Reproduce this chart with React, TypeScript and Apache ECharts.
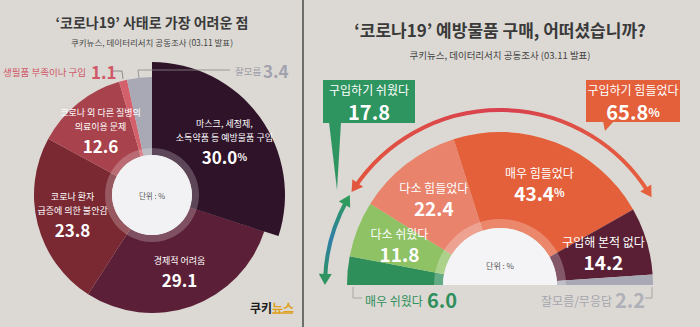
import React, { useEffect, useRef } from "react";
import * as echarts from "echarts";

const FF = '"Noto Sans CJK KR", "Noto Sans", sans-serif';

const leftTitle = "‘코로나19’ 사태로 가장 어려운 점";
const rightTitle = "‘코로나19’ 예방물품 구매, 어떠셨습니까?";
const sourceText = "쿠키뉴스, 데이터리서치 공동조사 (03.11 발표)";
const unitText = "단위 : %";

const leftNames = [
  "마스크, 세정제,\n소독약품 등 예방물품 구입",
  "경제적 어려움",
  "코로나 환자\n급증에 의한 불안감",
  "코로나 외 다른 질병의\n의료이용 문제",
  "생필품 부족이나 구입",
  "잘모름",
];
const leftValues = [30.0, 29.1, 23.8, 12.6, 1.1, 3.4];
const leftColors = ["#2f1329", "#5b1f37", "#7a2933", "#a8424c", "#d4606c", "#a9a9b5"];

const rightNames = ["매우 쉬웠다", "다소 쉬웠다", "다소 힘들었다", "매우 힘들었다", "구입해 본적 없다", "잘모름/무응답"];
const rightValues = [6.0, 11.8, 22.4, 43.4, 14.2, 2.2];
const rightColors = ["#2f8f5b", "#8fc265", "#e9836c", "#e4603a", "#5a1f35", "#a9a9b6"];

const groupNames = ["구입하기 쉬웠다", "구입하기 힘들었다"];
const groupValues = [17.8, 65.8];

const deg = (d: number) => (d * Math.PI) / 180;

function arrowHead(theta: number, dirSign: number, color: string, r = 175, cx = 500, cy = 285) {
  const t = deg(theta);
  const px = cx + r * Math.cos(t);
  const py = cy + r * Math.sin(t);
  const dx = dirSign * -Math.sin(t);
  const dy = dirSign * Math.cos(t);
  const nx = -dy;
  const ny = dx;
  const tip = [px + dx * 6, py + dy * 6];
  const bx = px - dx * 5;
  const by = py - dy * 5;
  return {
    type: "polygon",
    z: 50,
    shape: { points: [tip, [bx + nx * 6.5, by + ny * 6.5], [bx - nx * 6.5, by - ny * 6.5]] },
    style: { fill: color },
  };
}

function txt(text: string, x: number, y: number, size: number, color: string, opts: any = {}) {
  return {
    type: "text",
    z: 60,
    x,
    y,
    style: {
      text,
      fill: color,
      fontSize: size,
      fontFamily: FF,
      fontWeight: opts.bold ? "bold" : "normal",
      textAlign: opts.align || "center",
      textVerticalAlign: "middle",
      rich: opts.rich,
    },
  };
}

export default function App() {
  const ref = useRef<HTMLDivElement>(null);
  useEffect(() => {
    document.body.style.margin = "0";
    if (!ref.current) return;
    const chart = echarts.init(ref.current, undefined, { renderer: "svg" });

    const leftRich = {
      n: { fontSize: 9, color: "#fff", lineHeight: 14, fontFamily: FF },
      v: { fontSize: 17, fontWeight: "bold", color: "#fff", lineHeight: 24, fontFamily: FF },
      p: { fontSize: 10, fontWeight: "bold", color: "#fff", lineHeight: 24, fontFamily: FF },
    };
    const rightRich = {
      n: { fontSize: 12, color: "#fff", lineHeight: 16, fontFamily: FF },
      v: { fontSize: 19, fontWeight: "bold", color: "#fff", lineHeight: 24, fontFamily: FF },
      p: { fontSize: 11, fontWeight: "bold", color: "#fff", lineHeight: 24, fontFamily: FF },
    };
    const fmt = (pctIndex: number) => (p: any) =>
      `{n|${p.name}}\n{v|${Number(p.value).toFixed(1)}}${p.dataIndex === pctIndex ? "{p|%}" : ""}`;

    const leftCenter = [152, 195];
    const rightCenter = [500, 285];

    const graphic: any[] = [
      { type: "line", z: 5, shape: { x1: 303, y1: 0, x2: 303, y2: 327 }, style: { stroke: "#4a4a4a", lineWidth: 1.5 } },
      txt(leftTitle, 152, 22, 14, "#3a3a3a", { bold: true }),
      txt(sourceText, 152, 42, 8.5, "#444"),
      txt(rightTitle, 500, 29, 17, "#3a3a3a", { bold: true }),
      txt(sourceText, 500, 55, 9.5, "#444"),
      { type: "circle", z: 40, shape: { cx: leftCenter[0], cy: leftCenter[1], r: 47 }, style: { fill: "rgba(255,255,255,0.22)" } },
      { type: "circle", z: 41, shape: { cx: leftCenter[0], cy: leftCenter[1], r: 40 }, style: { fill: "#f2f2f4" } },
      txt(unitText, leftCenter[0], leftCenter[1], 7.5, "#555"),
      {
        type: "sector",
        z: 40,
        shape: { cx: rightCenter[0], cy: rightCenter[1], r0: 0, r: 66, startAngle: Math.PI, endAngle: 2 * Math.PI, clockwise: true },
        style: { fill: "rgba(255,255,255,0.25)" },
      },
      {
        type: "sector",
        z: 41,
        shape: { cx: rightCenter[0], cy: rightCenter[1], r0: 0, r: 57, startAngle: Math.PI, endAngle: 2 * Math.PI, clockwise: true },
        style: { fill: "#f4f4f6" },
      },
      txt(unitText, rightCenter[0], 265, 8, "#555"),
      txt(leftNames[4], 86, 72, 9.5, "#d05868", { align: "right" }),
      txt(leftValues[4].toFixed(1), 91, 71, 17, "#d05868", { align: "left", bold: true }),
      { type: "polyline", z: 50, shape: { points: [[112, 71], [122, 71], [123, 79]] }, style: { stroke: "#777", lineWidth: 0.8, fill: null } },
      { type: "polyline", z: 50, shape: { points: [[139, 78], [138, 70], [230, 70]] }, style: { stroke: "#888", lineWidth: 0.8, fill: null } },
      txt(leftNames[5], 235, 71, 9.5, "#9b9ba6", { align: "left" }),
      txt(leftValues[5].toFixed(1), 263, 70, 17, "#a2a2ae", { align: "left", bold: true }),
      {
        type: "text",
        z: 60,
        x: 272,
        y: 307,
        style: {
          text: "{a|쿠키}{b|뉴스}",
          textAlign: "center",
          textVerticalAlign: "middle",
          rich: {
            a: { fontSize: 12, fontWeight: "bold", fill: "#1a1a1a", fontFamily: FF },
            b: { fontSize: 12, fontWeight: "bold", fill: "#e0a020", fontFamily: FF },
          },
        },
      },
      { type: "line", z: 60, shape: { x1: 272, y1: 313, x2: 293, y2: 313 }, style: { stroke: "#e0a020", lineWidth: 1.5 } },
      { type: "polyline", z: 50, shape: { points: [[353, 287], [353, 298], [362, 298]] }, style: { stroke: "#999", lineWidth: 0.8, fill: null } },
      txt(rightNames[0], 365, 300, 12, "#2f8f5b", { align: "left" }),
      txt(rightValues[0].toFixed(1), 427, 299, 20, "#2f8f5b", { align: "left", bold: true }),
      { type: "polyline", z: 50, shape: { points: [[645, 298], [652, 298], [652, 287]] }, style: { stroke: "#999", lineWidth: 0.8, fill: null } },
      txt(rightNames[5], 612, 300, 12, "#a5a5ad", { align: "right" }),
      txt(rightValues[5].toFixed(1), 615, 299, 20, "#b0b0b8", { align: "left", bold: true }),
      {
        type: "arc",
        z: 45,
        shape: { cx: 500, cy: 285, r: 175, startAngle: deg(-146), endAngle: deg(-32), clockwise: true },
        style: {
          fill: null,
          stroke: {
            type: "linear",
            x: 0,
            y: 0,
            x2: 1,
            y2: 0,
            colorStops: [
              { offset: 0, color: "#e2553f" },
              { offset: 0.5, color: "#d8404f" },
              { offset: 1, color: "#e6603e" },
            ],
          },
          lineWidth: 4,
        },
      },
      arrowHead(-146, -1, "#e2553f"),
      arrowHead(-32, 1, "#e6603e"),
      {
        type: "arc",
        z: 45,
        shape: { cx: 500, cy: 285, r: 175, startAngle: deg(-178), endAngle: deg(-151), clockwise: true },
        style: {
          fill: null,
          stroke: {
            type: "linear",
            x: 0,
            y: 0,
            x2: 0,
            y2: 1,
            colorStops: [
              { offset: 0, color: "#2e9a5e" },
              { offset: 0.5, color: "#2f7fa8" },
              { offset: 1, color: "#2e9460" },
            ],
          },
          lineWidth: 4,
        },
      },
      arrowHead(-178, -1, "#2e9460"),
      arrowHead(-151, 1, "#2e9a5e"),
      { type: "rect", z: 50, shape: { x: 323, y: 80, width: 92, height: 43 }, style: { fill: "#2e9460" } },
      { type: "polygon", z: 50, shape: { points: [[329, 122], [341, 122], [337, 190]] }, style: { fill: "#2e9460" } },
      txt(groupNames[0], 369, 89, 12, "#fff"),
      txt(groupValues[0].toFixed(1), 369, 111, 20, "#fff", { bold: true }),
      { type: "rect", z: 50, shape: { x: 586, y: 80, width: 94, height: 42 }, style: { fill: "#e4603a" } },
      { type: "polygon", z: 50, shape: { points: [[603, 121], [614, 121], [605, 131]] }, style: { fill: "#e4603a" } },
      txt(groupNames[1], 633, 89, 12, "#fff"),
      {
        type: "text",
        z: 60,
        x: 633,
        y: 111,
        style: {
          text: `{v|${groupValues[1].toFixed(1)}}{p|%}`,
          textAlign: "center",
          textVerticalAlign: "middle",
          rich: {
            v: { fontSize: 20, fontWeight: "bold", fill: "#fff", fontFamily: FF },
            p: { fontSize: 12, fontWeight: "bold", fill: "#fff", fontFamily: FF },
          },
        },
      },
    ];

    chart.setOption({
      animation: false,
      backgroundColor: "#dcd9d4",
      graphic,
      series: [
        {
          type: "pie",
          center: leftCenter,
          radius: [40, 118],
          startAngle: 90,
          clockwise: true,
          avoidLabelOverlap: false,
          silent: true,
          itemStyle: { borderWidth: 0 },
          labelLine: { show: false },
          label: { show: true, position: "inside", formatter: fmt(0), rich: leftRich },
          data: leftValues.map((v, i) => ({
            value: v,
            name: leftNames[i],
            itemStyle: { color: leftColors[i] },
            label: { show: i >= 1 && i <= 3 },
          })),
        },
        {
          type: "pie",
          center: leftCenter,
          radius: [40, 133],
          startAngle: 90,
          clockwise: true,
          avoidLabelOverlap: false,
          silent: true,
          itemStyle: { borderWidth: 0 },
          labelLine: { show: false },
          label: { show: true, position: "inside", formatter: fmt(0), rich: leftRich },
          data: leftValues.map((v, i) => ({
            value: v,
            name: leftNames[i],
            itemStyle: { color: i === 0 ? leftColors[i] : "transparent" },
            label: { show: i === 0 },
          })),
        },
        {
          type: "pie",
          center: rightCenter,
          radius: [57, 153],
          startAngle: 180,
          endAngle: 0,
          clockwise: true,
          avoidLabelOverlap: false,
          silent: true,
          itemStyle: { borderWidth: 0 },
          labelLine: { show: false },
          label: { show: true, position: "inside", formatter: fmt(3), rich: rightRich },
          data: rightValues.map((v, i) => ({
            value: v,
            name: rightNames[i],
            itemStyle: { color: rightColors[i] },
            label: { show: i >= 1 && i <= 4 },
          })),
        },
      ],
    });
    return () => chart.dispose();
  }, []);
  return <div ref={ref} style={{ width: 700, height: 327 }} />;
}
